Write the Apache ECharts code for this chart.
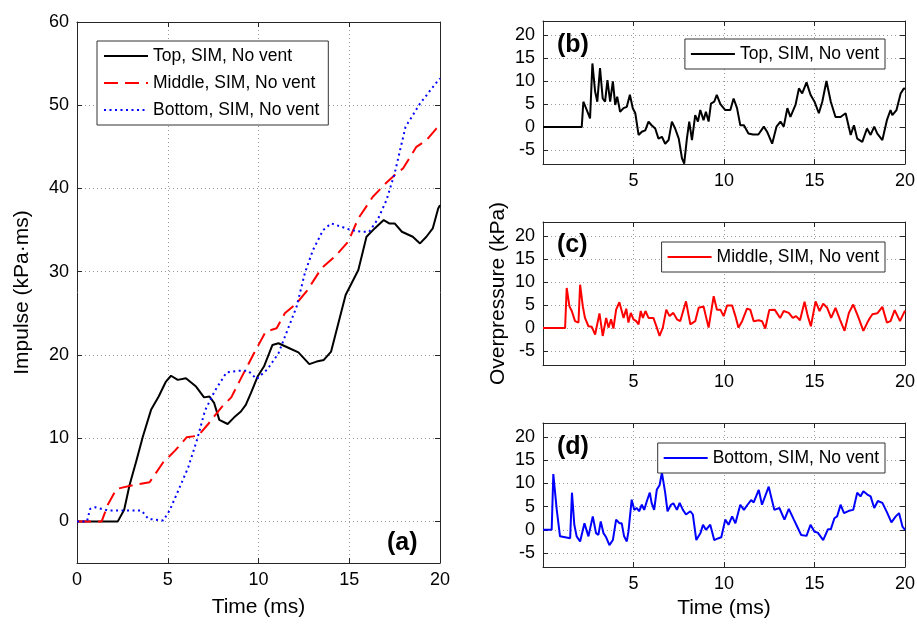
<!DOCTYPE html>
<html><head><meta charset="utf-8">
<script src="https://cdn.jsdelivr.net/npm/echarts@6/dist/echarts.min.js"></script>
<style>html,body{margin:0;padding:0;background:#fff}#c{width:917px;height:626px}</style>
</head><body><div id="c"></div>
<script>
// ---------- DATA ----------
const xTicks = [0, 5, 10, 15, 20];
const impulseTicks = [0, 10, 20, 30, 40, 50, 60];
const pressureTicks = [-5, 0, 5, 10, 15, 20];
const names = ['Top, SIM, No vent', 'Middle, SIM, No vent', 'Bottom, SIM, No vent'];

// (a) impulse (kPa·ms) vs time (ms)
const tImpTop = [0,2.25,2.6,2.9,3.26,3.63,4.08,4.5,4.9,5.18,5.55,6.0,6.56,7.0,7.3,7.56,7.84,8.3,8.66,9.03,9.3,9.58,9.95,10.3,10.77,11.1,11.7,12.2,12.8,13.2,13.6,14.0,14.4,14.8,15.5,15.95,16.4,16.9,17.2,17.5,17.9,18.5,18.9,19.25,19.6,19.9,20];
const vImpTop = [0,0,1.4,4.4,7.2,10.2,13.4,15,16.8,17.5,17,17.2,16.2,14.9,15,14.2,12.2,11.7,12.5,13.2,14,15.4,17.4,18.6,21.2,21.4,20.8,20.3,18.9,19.2,19.4,20.4,23.8,27.2,30.2,34.2,35.2,36.2,35.8,35.8,34.8,34.2,33.4,34.2,35.2,37.6,38];

const tImpMid = [0,1.36,1.72,2.18,3.0,4.0,4.75,5.4,6.04,6.68,7.23,7.96,8.5,9.06,9.8,10.4,11.0,11.45,12.1,12.7,13.47,14.2,14.94,15.5,16.3,17.0,17.6,17.96,18.7,19.25,19.8,20];
const vImpMid = [0,0,2.1,3.9,4.3,4.7,7.1,8.5,10.1,10.3,11.7,13.7,14.9,17.3,20.4,22.8,23.2,25,26.2,27.8,30.4,31.8,33.6,36.4,39,40.6,41.8,42.4,45,45.8,47.2,47.6];

const tImpBot = [0,0.55,0.72,1.0,1.72,2.28,2.8,3.56,3.93,4.75,5.1,5.58,6.13,6.6,7.05,7.6,8.24,8.9,9.43,9.9,10.5,11.1,11.6,12.1,12.55,13.0,13.56,14.0,14.57,15.1,15.7,16.1,16.6,17.05,17.5,17.8,18.1,18.9,19.4,19.9,20];
const vImpBot = [0,0,1.5,1.7,1.3,1.3,1.3,1.3,0.3,0.1,1.3,3.7,6.5,9.7,13.3,15.7,17.9,18.1,18.1,17.1,18.3,20.2,23,25.8,29.8,32.6,35,35.8,35.4,35,34.8,34.8,36.4,38.6,41.8,44.6,47.4,50.2,51.6,53,53.2];

// (b) overpressure, top
const tOpTop = [0,2.14,2.23,2.42,2.6,2.73,2.88,3.0,3.15,3.3,
  3.43,3.56,3.71,3.86,3.99,4.1,4.26,4.45,4.63,4.8,
  4.96,5.1,5.28,5.46,5.65,5.83,6.0,6.2,6.38,6.57,
  6.75,6.94,7.12,7.3,7.5,7.68,7.8,7.95,8.08,8.23,
  8.41,8.56,8.69,8.87,9.0,9.15,9.28,9.46,9.6,9.8,
  10.07,10.35,10.53,10.72,10.9,11.1,11.35,11.6,11.9,12.2,
  12.38,12.66,12.9,13.12,13.3,13.5,13.67,13.95,14.14,14.32,
  14.56,14.78,15.0,15.24,15.43,15.66,15.9,16.16,16.44,16.72,
  17.0,17.18,17.36,17.64,17.9,18.1,18.3,18.47,18.75,19.0,
  19.2,19.3,19.53,19.76,19.94,20];
const vOpTop = [0,0,5.5,3.7,1.9,13.8,7.7,5.5,12.8,6.2,
  5.5,10.2,5.5,9.9,4.8,6.6,3.3,4.1,4.4,7.0,
  4.1,3.0,-1.7,-1.0,-0.7,1.2,0.4,-0.3,-2.5,-2.1,
  -3.6,-2.8,1.2,-0.3,-2.5,-6.8,-7.9,-2.5,1.2,-2.8,
  2.6,1.2,3.7,1.5,3.3,1.2,5.1,5.5,7.0,5.0,
  3.7,3.7,6.2,4.1,0.4,0.4,-1.4,-1.6,-1.6,0.1,
  -1.0,-3.6,0.1,1.2,0.1,4.1,2.2,4.8,8.4,7.3,
  9.7,7.0,5.5,3.0,5.5,10.0,5.5,2.2,2.2,3.0,
  -1.7,0.4,-2.5,-3.2,-0.3,-1.7,0.1,-1.4,-2.8,1.5,
  3.7,2.6,3.7,7.3,8.4,8.2];

// (c) overpressure, middle
const tOpMid = [0,1.22,1.31,1.46,1.59,1.77,1.96,2.05,2.2,2.32,
  2.51,2.69,2.88,3.12,3.3,3.49,3.62,3.76,3.89,4.04,
  4.1,4.22,4.35,4.45,4.6,4.72,4.85,5.0,5.15,5.28,
  5.4,5.52,5.66,5.83,6.1,6.29,6.44,6.62,6.81,6.99,
  7.2,7.4,7.58,7.9,8.14,8.41,8.6,8.87,9.15,9.43,
  9.61,9.8,9.98,10.17,10.45,10.63,10.8,11.0,11.27,11.45,
  11.64,11.92,12.1,12.28,12.5,12.8,13.1,13.3,13.58,13.8,
  13.98,14.2,14.45,14.63,14.8,15.06,15.28,15.48,15.7,15.92,
  16.16,16.4,16.66,16.9,17.14,17.4,17.7,17.92,18.06,18.2,
  18.47,18.75,19.0,19.2,19.43,19.72,20];
const vOpMid = [0,0,8.7,4.7,3.7,1.5,1.2,9.4,4.7,2.2,
  0.4,0.3,-1.4,3.2,-1.7,2.2,0.1,1.9,-0.1,4.0,
  3.7,5.6,3.7,2.2,4.2,1.2,3.3,1.9,1.5,0.8,
  3.7,2.2,3.7,2.2,2.2,0.1,-1.7,0.1,4.0,2.6,
  3.3,1.9,1.5,5.8,0.8,1.5,4.4,4.7,0.1,6.9,
  4.0,4.0,2.6,4.9,4.9,2.6,0.1,1.5,4.2,4.0,
  1.5,1.7,1.5,-0.1,3.9,4.0,2.2,3.7,3.3,2.2,
  2.6,1.7,5.7,2.6,0.4,5.8,3.7,5.3,4.4,2.2,
  4.4,1.9,-0.6,3.3,5.1,2.6,-0.6,1.2,2.2,3.0,
  3.2,4.6,1.2,1.5,3.9,1.5,3.8];

// (d) overpressure, bottom
const tOpBot = [0,0.48,0.57,0.76,0.94,1.22,1.5,1.6,1.73,1.86,
  2.05,2.29,2.51,2.6,2.75,2.93,3.06,3.19,3.34,3.49,
  3.67,3.86,4.04,4.23,4.35,4.48,4.63,4.72,4.9,5.04,
  5.18,5.31,5.46,5.59,5.74,5.9,6.0,6.14,6.29,6.44,
  6.57,6.75,6.88,7.07,7.2,7.4,7.55,7.73,7.9,8.14,
  8.28,8.47,8.7,8.84,9.0,9.24,9.46,9.7,9.85,10.07,
  10.25,10.45,10.63,10.9,11.1,11.3,11.5,11.64,11.92,12.1,
  12.47,12.6,12.78,13.06,13.34,13.58,13.86,14.08,14.26,14.56,
  14.78,15.0,15.18,15.48,15.74,15.9,16.1,16.25,16.44,16.63,
  16.9,17.14,17.36,17.54,17.7,17.92,18.1,18.3,18.5,18.75,
  19.0,19.25,19.49,19.67,19.86,20];
const vOpBot = [0,0,12,4.3,-1.4,-1.6,-1.8,8.0,1.1,-1.4,
  -2.5,1.4,-1.4,-1.8,2.9,-0.7,-1.1,1.8,-0.7,-1.6,
  -3.3,-2.2,2.2,1.4,1.4,-1.4,-2.5,-0.4,6.5,4.3,
  4.7,4.0,5.4,4.3,6.2,8.0,5.8,4.3,8.7,9.6,
  12.3,8.0,4.0,5.4,5.7,4.3,5.8,4.3,3.3,4.0,
  3.3,-2.2,-0.7,1.1,0,1.1,-2.2,-1.8,-1.6,2.2,
  1.1,2.9,1.4,5.4,4.3,5.4,6.4,5.9,8.6,5.4,
  9.3,7.2,4.3,4.7,2.2,4.5,2.2,0.4,-1.1,-1.3,
  1.1,-0.4,-0.6,-2.2,0.1,0.1,2.5,2.9,5.4,3.6,
  4.1,4.3,8.0,7.2,8.3,7.6,7.2,4.7,6.2,5.8,
  3.8,1.6,2.9,3.6,0.7,0];

// ---------- CHART ----------
const FONT = '"Liberation Sans", Arial, Helvetica, sans-serif';
const AX = '#262626';
const GRIDLINE = { show: true, lineStyle: { color: '#9a9a9a', type: [1, 3], width: 1 } };
const zip = (t, v) => t.map((x, i) => [x, v[i]]);

const grids = [
  { left: 77, top: 22, width: 363, height: 541 },
  { left: 543, top: 21, width: 362, height: 143 },
  { left: 543, top: 222, width: 362, height: 143 },
  { left: 543, top: 423, width: 362, height: 144 }
].map(g => Object.assign(g, { outerBoundsMode: 'none', containLabel: false }));

const xAxis = [], yAxis = [];
function addX(gi, showZero, name, gap) {
  const base = {
    type: 'value', gridIndex: gi, min: 0, max: 20, interval: 5,
    axisLine: { show: true, onZero: false, lineStyle: { color: AX, width: 1 } },
    axisTick: { show: true, inside: true, length: 5, lineStyle: { color: AX } },
    splitLine: { show: false }, axisLabel: { show: false }
  };
  xAxis.push(Object.assign({}, base, {
    position: 'bottom',
    axisLabel: { show: true, color: '#000', fontSize: 18, fontFamily: FONT, margin: 8,
      formatter: v => (v === 0 && !showZero) ? '' : String(v) },
    splitLine: GRIDLINE,
    name: name || '', nameLocation: 'middle', nameGap: gap || 30,
    nameTextStyle: { color: '#000', fontSize: 21, fontFamily: FONT }
  }));
  xAxis.push(Object.assign({}, base, { position: 'top' }));
}
function addY(gi, min, max, vals, name, gap) {
  const base = {
    type: 'value', gridIndex: gi, min: min, max: max,
    axisLine: { show: true, onZero: false, lineStyle: { color: AX, width: 1 } },
    axisTick: { show: true, inside: true, length: 5, customValues: vals, lineStyle: { color: AX } },
    splitLine: { show: false }, axisLabel: { show: false, customValues: vals }
  };
  yAxis.push(Object.assign({}, base, {
    position: 'left',
    axisLabel: { show: true, customValues: vals, color: '#000', fontSize: 18, fontFamily: FONT, margin: 8 },
    splitLine: GRIDLINE,
    name: name || '', nameLocation: 'middle', nameGap: gap || 30,
    nameTextStyle: { color: '#000', fontSize: 21, fontFamily: FONT }
  }));
  yAxis.push(Object.assign({}, base, { position: 'right' }));
}
addX(0, true, 'Time (ms)', 34);
addY(0, -5, 60, impulseTicks, 'Impulse (kPa\u00b7ms)', 44);
addX(1, false); addY(1, -8, 23, pressureTicks);
addX(2, false); addY(2, -8, 23, pressureTicks, 'Overpressure (kPa)', 34);
addX(3, false, 'Time (ms)', 31); addY(3, -8, 23, pressureTicks);

function line(name, gi, t, v, color, type, width) {
  return {
    type: 'line', name: name, xAxisIndex: gi * 2, yAxisIndex: gi * 2,
    data: zip(t, v), symbol: 'none', showSymbol: false, smooth: false,
    lineStyle: { color: color, width: width, type: type }, itemStyle: { color: color },
    clip: true, z: 5
  };
}
const series = [
  line(names[0], 0, tImpTop, vImpTop, '#000000', 'solid', 2),
  line(names[1], 0, tImpMid, vImpMid, '#ff0000', [14, 7], 2),
  line(names[2], 0, tImpBot, vImpBot, '#0000ff', [2, 3.5], 2),
  line(names[0] + ' ', 1, tOpTop, vOpTop, '#000000', 'solid', 2),
  line(names[1] + ' ', 2, tOpMid, vOpMid, '#ff0000', 'solid', 2),
  line(names[2] + ' ', 3, tOpBot, vOpBot, '#0000ff', 'solid', 2)
];

const legendBase = {
  orient: 'vertical', itemWidth: 44, itemHeight: 14, itemGap: 9,
  borderColor: '#333', borderWidth: 1, backgroundColor: '#fff', borderRadius: 0,
  itemStyle: { opacity: 0, borderWidth: 0 },
  textStyle: { color: '#000', fontSize: 17.5, fontFamily: FONT },
  formatter: n => n.trim(), selectedMode: false, z: 10
};
const legend = [
  Object.assign({}, legendBase, { left: 97, top: 41, padding: [6, 9, 6, 6], data: names.slice() }),
  Object.assign({}, legendBase, { right: 32, top: 39, padding: [6, 6, 6, 5], data: [names[0] + ' '] }),
  Object.assign({}, legendBase, { right: 32, top: 242, padding: [6, 6, 6, 5], data: [names[1] + ' '] }),
  Object.assign({}, legendBase, { right: 32, top: 443, padding: [6, 6, 6, 5], data: [names[2] + ' '] })
];

function panelLabel(txt, x, y) {
  return { type: 'text', left: x, top: y, z: 20,
    style: { text: txt, fontSize: 25, fontWeight: 'bold', fontFamily: FONT, fill: '#000' } };
}

const chart = echarts.init(document.getElementById('c'), null, { renderer: 'canvas' });
chart.setOption({
  animation: false,
  backgroundColor: '#fff',
  grid: grids, xAxis: xAxis, yAxis: yAxis, series: series, legend: legend,
  graphic: [
    panelLabel('(a)', 387, 531),
    panelLabel('(b)', 557, 33),
    panelLabel('(c)', 557, 233),
    panelLabel('(d)', 557, 435)
  ]
});
</script></body></html>
